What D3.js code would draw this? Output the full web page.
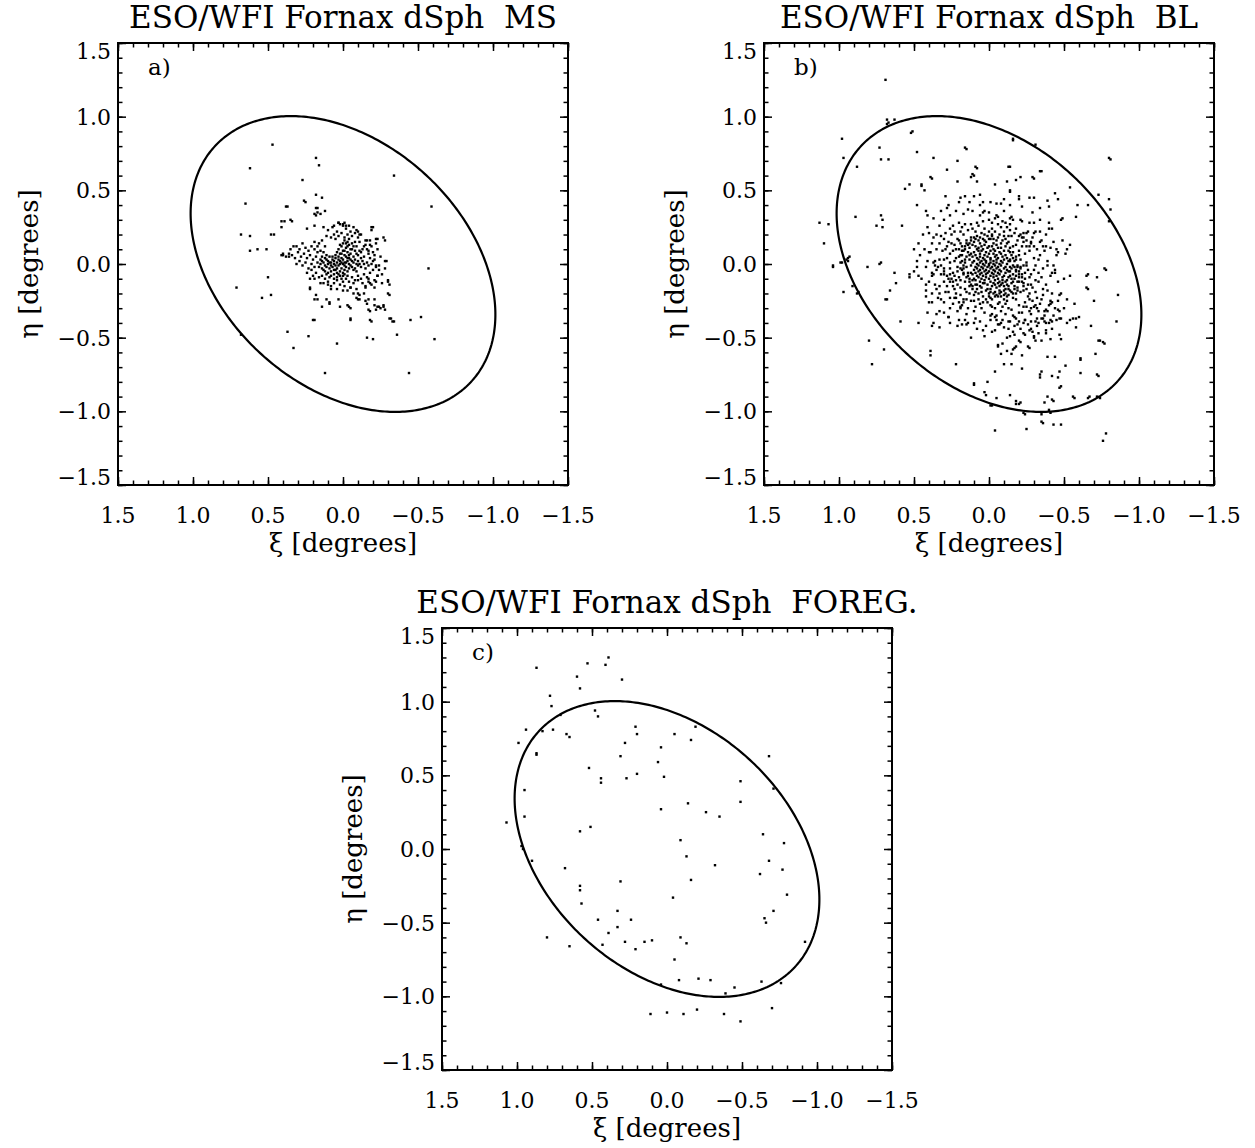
<!DOCTYPE html>
<html>
<head>
<meta charset="utf-8">
<script src="https://cdn.jsdelivr.net/npm/d3@7"></script>
<style>
  body { margin: 0; background: #fff; }
  text { font-family: "DejaVu Serif", "Liberation Serif", serif; fill: #000; }
</style>
</head>
<body>
<svg id="fig" width="1255" height="1148"></svg>
<script>
// axis ranges (degrees) and tick labels
const xiDomain = [1.5, -1.5];
const etaDomain = [-1.5, 1.5];
const majorTicks = [1.5, 1.0, 0.5, 0.0, -0.5, -1.0, -1.5];
const minorTicks = d3.range(-15, 16).map(d => d / 10);

const titles = ['ESO/WFI Fornax dSph  MS', 'ESO/WFI Fornax dSph  BL', 'ESO/WFI Fornax dSph  FOREG.'];
const letters = ['a)', 'b)', 'c)'];

// tidal ellipse: semi-major axis (deg), axis ratio, position angle (deg)
const ellipseShape = [1.17, 0.70, 46];

// star positions [xi, eta], in units of 0.01 degree
const msStars = [
  // outer MS stars
  [47,81],[18,72],[16,67],[62,65],[-34,60],[27,57],[18,47],[14,45],[65,41],[38,39],[-59,39],[26,43],[18,38],[19,34],[17,35],[41,29],[35,30],[68,20],[62,19],[48,20],[62,9],[57,10],[51,10],[41,6],[-19,25],[-22,17],[-27,18],[-28,2],[-57,-3],[50,-9],[71,-16],[-23,-8],[-30,-12],[48,-21],[54,-23],[22,-16],[-30,-20],[19,-24],[9,-27],[-3,-28],[-9,-23],[-15,-25],[-17,-31],[-21,-28],[-23,-29],[-27,-28],[-31,-37],[-33,-39],[-45,-38],[-52,-36],[20,-38],[-5,-37],[-18,-38],[37,-46],[23,-49],[-36,-48],[33,-57],[4,-54],[-16,-50],[-20,-51],[-61,-51],[68,-48],[12,-74],[-44,-74],
  [37,39],[25,42],[17,38],[15,34],[18,33],[12,36],[39,29],[34,29],[41,25],[46,20],[24,24],[19,26],[13,25],[6,26],[3,28],[0,27],[-2,26],[-10,22],[-11,20],[-16,16],[-18,13],[-20,25],[-19,23],[-23,17],[-28,16],[33,12],[35,10],[40,6],[36,5],[-29,2],[-28,-3],[-24,-1],[-22,-2],[22,-17],[19,-10],[18,-21],[17,-24],[14,-29],[11,-24],[9,-26],[3,-24],[2,-29],[-4,-29],[-5,-30],[-10,-24],[-11,-24],[-10,-20],[-14,-20],[-16,-27],[-17,-24],[-21,-24],[-24,-29],[-25,-30],[-27,-29],[-28,-31],[-18,-32],[-22,-31],[-31,-21],[-30,-11],[-31,-14],[-26,-13],[-22,-12],[-21,-16],[-17,-10],[-18,-13],[-15,-16],[-5,-16],[-7,-13],[-10,-11],[0,-18],[4,-17],[8,-17],[10,-14],[13,-13],[15,-13],[19,-38],[-5,-38],[-19,-39],[-32,-37],[-34,-39],[21,-4],
  // MS core
  [14,2],[12,-1],[10,0],[9,-3],[11,3],[8,1],[7,-2],[6,0],[5,-4],[4,1],[3,-1],[2,2],[1,-3],[0,0],[-1,1],[-2,-2],[-3,2],[-4,0],[13,-4],[12,4],[10,-6],[9,5],[8,-5],[7,3],[6,-7],[5,4],[4,-6],[3,5],[2,-5],[1,4],[0,-6],[-1,-4],[-2,5],[-3,-5],[-4,4],[15,0],[14,-3],[11,-2],[9,1],[8,-1],[6,2],[5,-1],[4,-3],[3,3],[2,0],[1,1],[0,3],[-1,-1],[-2,1],[11,-7],[13,1],[10,2],[7,5],[6,-4],[5,6],[3,-7],[2,-8],[0,-8],[-1,-7],[8,-8],[12,-5],[16,-2],[15,3],[17,1],[9,-9],[6,-10],[4,-9],[1,-10],[-3,-8],[14,5],[11,6],
  [4,8],[3,10],[2,7],[1,12],[0,9],[-1,6],[-2,11],[-3,8],[-4,13],[-5,7],[-6,10],[-7,5],[-8,9],[-9,12],[-10,6],[-11,9],[-12,4],[-5,3],[-6,2],[-7,1],[-8,3],[-9,0],[-10,2],[-11,0],[-4,6],[-3,12],[-2,14],[0,14],[2,13],[-6,14],[-8,15],[-1,9],[1,7],[-3,4],[-5,10],[-7,12],[-9,7],[-12,8],[-13,2],[-14,5],[-6,-2],[-8,-3],[-10,-1],[-12,-2],[-5,-1],[-7,-4],[-9,-5],[-4,-3],[-3,15],[-1,16],
  [5,17],[3,19],[1,21],[-1,18],[-3,20],[-5,22],[-6,19],[-2,24],[0,26],[2,27],[-4,26],[-7,25],[4,22],[6,20],[8,18],[-8,21],[-10,18],[-11,15],[-9,23],[3,28],[-1,28],[-4,17],[7,25],[10,23],[11,19],[-12,20],[-14,12],[-15,16],[-16,10],[-17,7],
  [18,5],[20,3],[22,6],[24,4],[26,7],[28,5],[30,8],[32,4],[34,6],[36,7],[38,5],[40,7],[19,-2],[21,0],[23,-3],[25,1],[27,-1],[29,2],[31,0],[17,8],[19,10],[21,12],[23,9],[25,11],[27,14],[29,10],[31,12],[18,-6],[20,-8],[16,-9],[14,-8],[22,-10],[24,-6],[17,12],[15,9],[13,8],[16,14],[19,15],[14,16],[12,12],
  [-2,-10],[-4,-12],[-6,-9],[-8,-11],[-10,-8],[-12,-10],[-14,-7],[-16,-9],[-18,-6],[-20,-4],[-13,-13],[-15,-15],[-17,-12],[-19,-14],[-21,-11],[-23,-8],[0,-12],[2,-14],[4,-11],[6,-13],[8,-15],[10,-12],[12,-10],[-1,-15],[-3,-18],[-5,-16],[-7,-20],[-9,-17],[-11,-21],[-24,-4],[-26,-7],[-22,-1],[-20,2],[-18,4],[-16,1],[-15,-3],[-17,-1],[-19,0],[-21,3],[-14,0],
  [-13,10],[-15,13],[-17,9],[-19,12],[-21,6],[-23,10],[-18,16],[-20,8],[-22,14],[-25,5]
];

const blStars = [
  // outer BL stars
  [69,125],[68,98],[67,96],[63,98],[68,95],[51,90],[98,85],[73,79],[48,76],[16,79],[-16,85],[-31,81],[97,72],[72,71],[67,71],[37,72],[-80,72],[88,66],[-13,66],[9,66],[-35,63],[28,64],[11,61],[12,59],[-21,59],[39,59],[-29,59],[45,54],[53,54],[56,51],[-54,52],[-4,54],[-14,50],[-44,48],[-73,47],[-80,44],[-66,40],[-81,37],[-40,39],[-49,31],[-80,29],[89,32],[72,33],[71,30],[113,28],[107,27],[75,26],[71,25],[110,14],[93,5],[95,3],[98,1],[104,-1],[72,1],[81,-2],[-77,-3],[-65,-8],[-65,-16],[-86,-21],[97,-19],[91,-15],[87,-19],[68,-24],[59,-39],[47,-40],[-85,-39],[-68,-42],[-73,-52],[-76,-53],[80,-52],[70,-58],[39,-59],[39,-62],[78,-68],[22,-68],[-71,-61],[-61,-64],[-72,-75],[-61,-74],[-47,-73],[-34,-75],[-35,-73],[-48,-83],[10,-81],[1,-80],[-4,-73],[3,-87],[2,-89],[-14,-89],[-5,-91],[-18,-93],[-39,-90],[-42,-92],[-56,-90],[-67,-90],[-72,-90],[-1,-96],[-20,-95],[-23,-101],[-35,-102],[-40,-99],[-35,-107],[-43,-109],[-48,-109],[-4,-113],[-25,-112],[-78,-115],[-76,-120],
  [52,89],[15,78],[21,70],[38,58],[21,56],[45,53],[43,50],[29,46],[19,45],[16,46],[48,40],[28,38],[14,37],[42,36],[41,33],[58,26],[94,4],
  [-16,84],[-81,71],[8,65],[-14,66],[-34,63],[10,60],[8,56],[-12,56],[-18,57],[-30,58],[-59,40],[-14,49],[-20,46],[-20,44],[-27,45],[-30,45],[-39,43],[-46,44],[-10,44],[-5,41],[6,47],[4,42],[10,46],[-34,38],[-58,32],[-48,30],[-40,28],[-30,28],[-22,29],[-14,31],[-16,30],[-6,32],[4,35],[3,36],[-42,24],[-34,22],[-38,20],[-25,21],[-30,21],[-49,16],[-54,13],[-52,10],[-51,7],[-45,10],[-46,8],[-38,12],[-41,11],[-34,15],[-28,15],[-30,12],[-23,15],[-25,12],[-21,20],[-22,18],[-14,27],
  [-78,-4],[-72,-9],[-66,-7],[-66,-17],[-70,-25],[-54,-8],[-50,-10],[-44,-6],[-42,-6],[-39,-1],[-43,-1],[-47,-21],[-57,-27],[-60,-36],[-58,-37],[-56,-37],[-54,-38],[-58,-43],[-52,-40],[-48,-37],[-47,-37],[-74,-52],[-77,-54],[-61,-65],[-73,-76],[-48,-51],[-41,-51],[-38,-47],[-39,-63],[-44,-63],[-51,-69],[-42,-76],[-46,-77],[-34,-77],[-47,-84],[-57,-91],[-66,-91],[-74,-91],[-43,-93],[-37,-94],[-41,-101],[-36,-108],[-24,-102],[-18,-95],[-21,-94],[-2,-96],[10,-82],[-10,-68],[-15,-68],[-22,-71],[-27,-57],[-22,-62],[-8,-61],[-15,-61],[-17,-57],[-18,-56],[-12,-59],[-9,-54],[-6,-56],[-14,-49],[-17,-48],[-21,-53],[-24,-48],[-30,-49],[-27,-45],[-31,-52],[12,-50],[3,-49],[4,-45],[-2,-46],[-7,-41],[-8,-40],[10,-40],[6,-39],[-32,-42],[-38,-40],[-41,-38],[-42,-39],[-37,-39],[-36,-37],[-32,-37],[-28,-39],[-24,-38],[-23,-40],[-18,-37],[-20,-39],[-14,-39],[-5,-38],[-4,-36],[-2,-34],[-46,-31],[-47,-32],[-42,-26],[-41,-27],[-39,-32],[-37,-32],[-33,-32],[-31,-28],[-28,-30],[-24,-26],[-27,-24],
  [104,-2],[99,1],[94,2],[73,0],[88,-20],[63,-6],[53,-7],[53,-9],[50,-5],[47,-8],[62,-13],[66,-18],[69,-24],[42,-14],[42,-22],[40,-26],[33,-15],[34,-23],[32,-24],[27,-19],[23,-23],[26,-12],[24,-12],[37,-7],[38,-6],[35,-4],[30,-7],[26,-7],[23,-8],[37,1],[36,-1],[32,-1],[30,-3],[48,2],[22,-23],[20,-26],[19,-29],[17,-26],[15,-24],[41,-33],[35,-34],[30,-33],[27,-36],[26,-40],[21,-42],[18,-41],[16,-38],[15,-41],[37,-40],[38,-42],[33,-43],[19,-30],
  // BL core
  [-6,11],[-2,12],[1,11],[5,12],[8,10],
  [-10,9],[-7,8],[-4,9],[-1,9],[2,8],[4,10],[7,9],[10,8],
  [-11,6],[-8,7],[-5,6],[-3,7],[0,7],[3,6],[6,7],[9,6],[12,7],
  [-12,4],[-9,5],[-6,4],[-4,5],[-1,4],[1,5],[4,4],[6,5],[8,4],[11,5],
  [-13,2],[-10,3],[-8,2],[-5,3],[-3,2],[-1,3],[2,2],[3,3],[5,2],[7,3],[10,2],[13,3],
  [-12,0],[-9,1],[-7,0],[-5,1],[-3,0],[-1,1],[0,0],[2,1],[4,0],[6,1],[8,0],[11,1],
  [-11,-2],[-8,-1],[-6,-2],[-4,-1],[-2,-2],[0,-1],[1,-2],[3,-1],[5,-2],[7,-1],[9,-2],[12,-1],
  [-12,-4],[-10,-3],[-7,-4],[-5,-3],[-3,-4],[-1,-3],[2,-4],[4,-3],[6,-4],[8,-3],[10,-4],
  [-11,-6],[-8,-5],[-6,-6],[-4,-5],[-2,-6],[0,-5],[1,-6],[3,-5],[5,-6],[7,-5],[9,-6],[12,-6],
  [-10,-8],[-7,-7],[-5,-8],[-3,-7],[-1,-8],[2,-7],[4,-8],[6,-7],[8,-8],[11,-7],
  [-9,-9],[-6,-10],[-3,-9],[0,-10],[2,-9],[5,-10],[7,-9],[10,-10],
  [-7,-12],[-4,-11],[-1,-12],[3,-11],[6,-12],[9,-11],
  [18,2],[17,-3],[19,6],[16,10],[14,13],[12,16],[9,17],[6,18],[3,16],[0,17],[-3,17],[-6,18],[-9,16],[-12,14],[-14,11],[-16,8],[-18,3],[-19,-1],[-18,-4],[-17,-10],[-15,-13],[-13,-17],[-10,-18],[-7,-18],[-4,-19],[-1,-19],[2,-18],[5,-19],[8,-17],[11,-15],[13,-12],[15,-9],[17,-7],[19,-3],[20,5],[18,9],[21,-5],[-20,6],[-21,-2],[-20,-7],[-17,-15],[-14,-18],[-11,-20],[-8,-22],[-5,-21],[-22,-9],[-23,-13],[-19,-18],[-16,-20],[-12,-22],[9,-19],[12,-14],[-2,19],[3,20],[7,16],[-10,19],[-13,19],[10,18],[15,14],[-18,13],
  [14,8],[16,12],[18,6],[20,10],[15,16],[19,14],[22,4],[24,9],[21,17],[17,20],[13,14],[12,18],[10,15],[8,19],[6,14],[4,17],[2,15],[9,22],[5,21],[14,23],[18,25],[23,13],[26,7],[27,15],[25,20],[29,10],[28,4],[30,17],[24,26],[20,28],[12,27],[7,26],[3,24],[1,19],[16,3],[19,1],[23,2],[26,1],[30,3],
  [-14,8],[-16,12],[-13,15],[-18,5],[-20,9],[-11,17],[-8,14],[-5,16],[-3,14],[-1,17],[-7,20],[-4,22],[-10,22],[-15,19],[-19,16],[-22,12],[-24,7],[-17,2],[-21,3],[-25,1],[-27,9],[-23,18],[-12,25],[-6,27],[-2,24],[0,22],[-2,28],[-9,29],[-18,24],[-28,14],[-30,4],[-14,2],[-16,-1],[-2,20],[-26,22],
  [14,-8],[16,-12],[13,-15],[18,-4],[20,-9],[11,-17],[8,-14],[5,-16],[3,-13],[1,-17],[7,-20],[4,-22],[10,-21],[15,-19],[19,-16],[22,-11],[24,-6],[17,-1],[21,-2],[26,-3],[27,-10],[23,-17],[12,-25],[6,-27],[2,-24],[0,-22],[17,-24],[28,-15],[30,-5],[9,-29],
  [-14,-8],[-16,-12],[-13,-15],[-18,-5],[-20,-9],[-11,-17],[-8,-14],[-5,-16],[-3,-13],[-1,-17],[-7,-20],[-4,-22],[-10,-21],[-15,-19],[-19,-16],[-22,-12],[-24,-6],[-17,-2],[-21,-3],[-25,-1],[-27,-9],[-23,-18],[-12,-25],[-6,-27],[-2,-24],[0,-20],[-2,-29],[-9,-29],[-18,-24],[-28,-14],[-30,-4],[-14,-2],[-26,-22],[-20,-28],[-15,-31],[-11,-34],[-17,-36],[-22,-33],[-25,-29],[-29,-25],[-31,-19],[-33,-12],[-8,-32],[-5,-35],[-13,-39],[-19,-41],[-24,-38],[-28,-34],[-32,-30],[-35,-24],[-36,-17],[-12,-14],[-9,-11],[-15,-10],[-13,-5],[-10,-15],[-6,-13],[-11,-12],[-16,-7],[-19,-12],
  [35,20],[38,14],[40,8],[36,2],[42,-2],[33,26],[30,30],[26,33],[22,36],[17,34],[11,36],[6,33],[0,35],[-5,33],[-10,36],[-15,32],[-21,30],[-27,28],[-31,22],[-35,16],[-37,9],[-39,2],[-36,-3],[-41,-8],[38,-8],[36,-14],[33,-20],[30,-26],[26,-30],[21,-32],[15,-34],[9,-37],[3,-33],[-1,-38],[44,20],[46,6],[47,14],[41,25],[37,31],[32,36],[27,40],[20,42],[13,42],[6,40],[-1,42],[-8,41],[-14,40],[-22,39],[-29,35],[-34,30],[-40,24],[-43,15],[-45,6],[-44,-4],[-46,-12],[-42,-20],[-40,-28],[-37,-35],[-33,-40],[-28,-44],[-23,-47],[-16,-46],[-10,-43],[-4,-45],[2,-42],[8,-44],[14,-40],[20,-38],[27,-36],[33,-32],[38,-26],[42,-18],[45,-10],[48,-2],[50,10],[-48,-20],[-50,-30],[-45,-38],[-38,-45],[-30,-50],[-20,-52],[-12,-50],[-6,-55],[-35,-52],[-26,-56],[-42,-44],[-52,-24],[-47,-48],[-16,-58],
  [15,5],[17,9],[13,11],[11,13],[9,12],[7,11],[5,9],[3,13],[0,12],[-3,10],[-5,13],[-8,11],[-11,12],[-13,9],[-15,6],[-14,3],[-16,4],[-15,-3],[-14,-5],[-13,-9],[-12,-11],[-9,-13],[-7,-15],[-4,-14],[-2,-15],[1,-14],[4,-13],[6,-15],[9,-14],[11,-11],[13,-10],[14,-6],[15,-2],[16,1],[13,6],
  [-18,-8],[-20,-12],[-22,-7],[-24,-10],[-26,-14],[-23,-15],[-21,-19],[-18,-20],[-16,-23],[-13,-21],[-10,-24],[-8,-19],[-6,-22],[-3,-20],[-1,-23],[-17,-17],[-25,-17],[-27,-20],[-29,-16],[-31,-11],[-28,-7],[-26,-4],[-23,-1],[-20,-5],[-19,-2],[-32,-23],[-30,-29],[-27,-32],[-23,-29],[-20,-33],[-16,-35],[-13,-30],[-11,-27],[-7,-26],[-4,-30],[-1,-28],[-34,-27],[-36,-21],[-38,-14],[-33,-6],[-35,-9],[-39,-18],[-41,-25],[-38,-31],[-35,-37],[-31,-39],[-26,-41],[-21,-44],[-17,-42],[-13,-44],[-9,-38],[-6,-41],[-1,-35],[-44,-30],[-46,-25],[-43,-35],[-40,-40],[-33,-47],[-29,-46],
  [18,12],[20,16],[22,10],[25,14],[28,12],[31,9],[33,14],[35,10],[32,19],[29,21],[26,24],[23,22],[19,22],[16,27],[11,24],[8,28],[4,29],[0,30],[-4,31],[-8,25],[-11,28],[-14,23],[-17,21],[-20,19],[-23,21],[-25,16],[-27,12],[-29,18],[-32,10],[-33,3],[-31,-1],[-34,6],[-36,12],
  [17,-6],[19,-11],[21,-14],[24,-15],[22,-20],[19,-21],[16,-17],[13,-20],[10,-25],[7,-24],[4,-26],[1,-26],[25,-10],[28,-8],[30,-12],[32,-7],[34,-2],[33,3],[29,-19],[26,-23],[24,-27],[18,-28],[14,-30],[10,-32],[5,-30],[35,-17],[38,-20],[40,-12],[41,2],[39,8],[43,10],[37,18],[40,21]
];

const foregStars = [
  [87,123],[53,126],[39,130],[41,125],[60,117],[30,115],[58,109],[78,104],[77,97],[48,94],[46,90],[71,91],[83,80],[94,81],[76,81],[99,72],[67,78],[65,76],[21,83],[20,78],[-5,78],[-19,83],[-16,74],[28,72],[4,69],[87,65],[87,64],[31,63],[-68,63],[6,59],[52,55],[20,51],[2,49],[27,48],[44,48],[44,45],[-49,46],[-49,32],[-71,41],[95,40],[-14,31],[4,27],[-26,25],[-35,22],[95,22],[107,18],[51,15],[58,12],[-64,10],[-9,6],[-78,4],[97,2],[96,0],[-13,-5],[-68,-8],[90,-8],[-32,-11],[68,-13],[-62,-17],[-77,-14],[-16,-21],[31,-22],[58,-25],[58,-28],[-80,-31],[-4,-33],[57,-37],[-71,-42],[33,-42],[-65,-47],[-66,-50],[46,-48],[24,-48],[33,-53],[39,-57],[-92,-63],[28,-63],[15,-63],[10,-62],[-9,-60],[-13,-64],[43,-65],[65,-66],[80,-60],[21,-68],[-5,-75],[-8,-89],[-21,-88],[-29,-89],[4,-92],[-45,-94],[-63,-90],[-76,-91],[-39,-98],[11,-112],[0,-111],[-11,-112],[-20,-109],[-38,-112],[-49,-117],[-70,-108]
];

const starSets = [msStars, blStars, foregStars];
// panel frames (px)
const frames = [[118, 43], [764, 43], [442, 628]];
const W = 450, H = 442;

const svg = d3.select('#fig');
const fmt = d3.format('.1f');

frames.forEach(([left, top], i) => {
  const x = d3.scaleLinear().domain(xiDomain).range([left, left + W]);
  const y = d3.scaleLinear().domain(etaDomain).range([top + H, top]);
  const g = svg.append('g');

  // stars
  g.append('g')
    .selectAll('rect')
    .data(starSets[i])
    .join('rect')
    .attr('x', d => x(d[0] / 100) - 1.2)
    .attr('y', d => y(d[1] / 100) - 1.2)
    .attr('width', 2.4)
    .attr('height', 2.4)
    .attr('fill', '#000');

  // ellipse
  const [a, q, pa] = ellipseShape;
  const b = a * q, th = pa * Math.PI / 180;
  const pts = d3.range(0, 361).map(t => {
    const r = t * Math.PI / 180;
    const u = a * Math.cos(r), v = b * Math.sin(r);
    return [u * Math.sin(th) + v * Math.cos(th), u * Math.cos(th) - v * Math.sin(th)];
  });
  g.append('path')
    .attr('d', d3.line().x(d => x(d[0])).y(d => y(d[1]))(pts))
    .attr('fill', 'none')
    .attr('stroke', '#000')
    .attr('stroke-width', 2.2);

  // inward ticks on all four sides
  const tickAxis = (axis, tx, ty, vals, len) => {
    g.append('g')
      .attr('transform', `translate(${tx},${ty})`)
      .call(axis.tickValues(vals).tickSize(len).tickFormat(''))
      .call(s => s.select('.domain').remove())
      .call(s => s.selectAll('line').attr('stroke', '#000').attr('stroke-width', 1.5));
  };
  [[minorTicks, 4.5], [majorTicks, 8]].forEach(([vals, len]) => {
    tickAxis(d3.axisTop(x), 0, top + H, vals, len);
    tickAxis(d3.axisBottom(x), 0, top, vals, len);
    tickAxis(d3.axisRight(y), left, 0, vals, len);
    tickAxis(d3.axisLeft(y), left + W, 0, vals, len);
  });

  // frame
  g.append('rect')
    .attr('x', left).attr('y', top)
    .attr('width', W).attr('height', H)
    .attr('fill', 'none').attr('stroke', '#000').attr('stroke-width', 2);

  // tick labels
  g.append('g').selectAll('text').data(majorTicks).join('text')
    .attr('x', d => x(d)).attr('y', top + H + 38)
    .attr('text-anchor', 'middle').attr('font-size', 22)
    .text(d => fmt(d));
  g.append('g').selectAll('text').data(majorTicks).join('text')
    .attr('x', left - 7)
    .attr('y', d => Math.min(Math.max(y(d), top + 8), top + H - 8) + 8)
    .attr('text-anchor', 'end').attr('font-size', 22)
    .text(d => fmt(d));

  // axis titles
  g.append('text')
    .attr('x', left + W / 2).attr('y', top + H + 67)
    .attr('text-anchor', 'middle').attr('font-size', 26)
    .text('ξ [degrees]');
  g.append('text')
    .attr('transform', `translate(${left - 80},${top + H / 2}) rotate(-90)`)
    .attr('text-anchor', 'middle').attr('font-size', 26)
    .text('η [degrees]');

  // title and panel letter
  g.append('text')
    .attr('x', left + W / 2).attr('y', top - 15)
    .attr('text-anchor', 'middle').attr('font-size', 31)
    .style('white-space', 'pre')
    .text(titles[i]);
  g.append('text')
    .attr('x', left + 30).attr('y', top + 32)
    .attr('font-size', 23)
    .text(letters[i]);
});
</script>
</body>
</html>
